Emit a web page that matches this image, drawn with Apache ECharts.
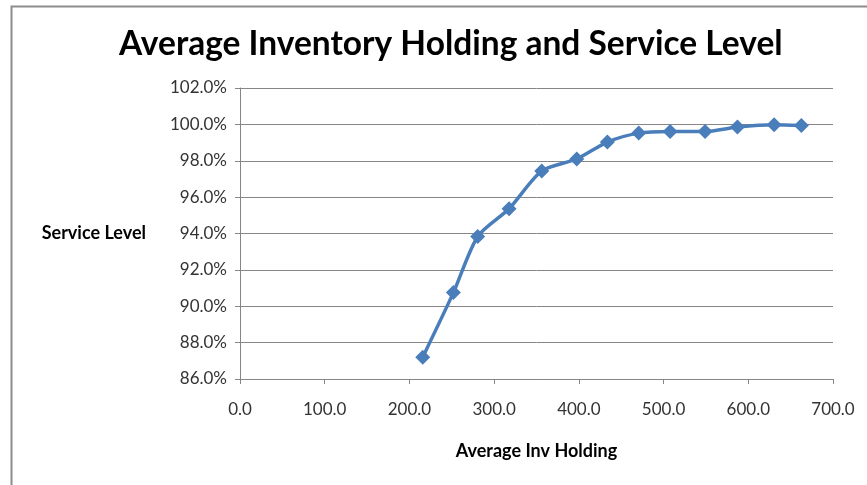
<!DOCTYPE html>
<html>
<head>
<meta charset="utf-8">
<script src="https://cdn.jsdelivr.net/npm/echarts@6/dist/echarts.min.js"></script>
<style>
html,body{margin:0;padding:0;background:#fff;}
#c{width:867px;height:485px;}
</style>
</head>
<body>
<div id="c"></div>
<script>
const titleText = 'Average Inventory Holding and Service Level';
const xAxisTitle = 'Average Inv Holding';
const yAxisTitle = 'Service Level';
const avgInvHolding = [215.7, 251.9, 280.6, 317.6, 356.2, 397.5, 433.7, 470.7, 507.7, 549.0, 587.2, 630.5, 662.7];
const serviceLevel = [87.2, 90.75, 93.84, 95.36, 97.44, 98.1, 99.03, 99.52, 99.61, 99.61, 99.85, 99.98, 99.94];

const FONT = 'Lato';
const chart = echarts.init(document.getElementById('c'), null, {renderer: 'canvas'});
chart.setOption({
  animation: false,
  backgroundColor: '#fff',
  graphic: [{
    type: 'rect', left: 9, top: 4, z: -1,
    shape: {width: 880, height: 500},
    style: {fill: 'none', stroke: '#8c8c8c', lineWidth: 2}
  }],
  title: {
    text: titleText,
    left: 114, top: 22,
    textStyle: {fontFamily: FONT, fontSize: 33.5, fontWeight: 'bold', color: '#000'}
  },
  grid: {left: 240, right: 34, top: 88, bottom: 106, containLabel: false},
  xAxis: {
    type: 'value', min: 0, max: 700, interval: 100,
    name: xAxisTitle, nameLocation: 'middle', nameGap: 63,
    nameTextStyle: {fontFamily: FONT, fontSize: 18, fontWeight: 'bold', color: '#000'},
    axisLine: {show: true, lineStyle: {color: '#868686', width: 1}},
    axisTick: {show: true, length: 5, lineStyle: {color: '#868686'}},
    axisLabel: {margin: 22, fontFamily: FONT, fontSize: 17, color: '#333',
      formatter: v => v.toFixed(1)},
    splitLine: {show: false}
  },
  yAxis: {
    type: 'value', min: 86, max: 102, interval: 2,
    name: yAxisTitle, nameLocation: 'middle', nameRotate: 0, nameGap: 94,
    nameTextStyle: {fontFamily: FONT, fontSize: 18, fontWeight: 'bold', color: '#000', align: 'right'},
    axisLine: {show: true, lineStyle: {color: '#868686', width: 1}},
    axisTick: {show: true, length: 5, lineStyle: {color: '#868686'}},
    axisLabel: {margin: 13, fontFamily: FONT, fontSize: 17, color: '#333',
      formatter: v => v.toFixed(1) + '%'},
    splitLine: {show: true, lineStyle: {color: '#868686', width: 1}}
  },
  series: [{
    type: 'line',
    data: avgInvHolding.map((x, i) => [x, serviceLevel[i]]),
    smooth: 0.25,
    symbol: 'diamond', symbolSize: 15,
    lineStyle: {color: '#4a7ebb', width: 3.5},
    itemStyle: {color: '#4a7ebb'}
  }]
});
</script>
</body>
</html>
